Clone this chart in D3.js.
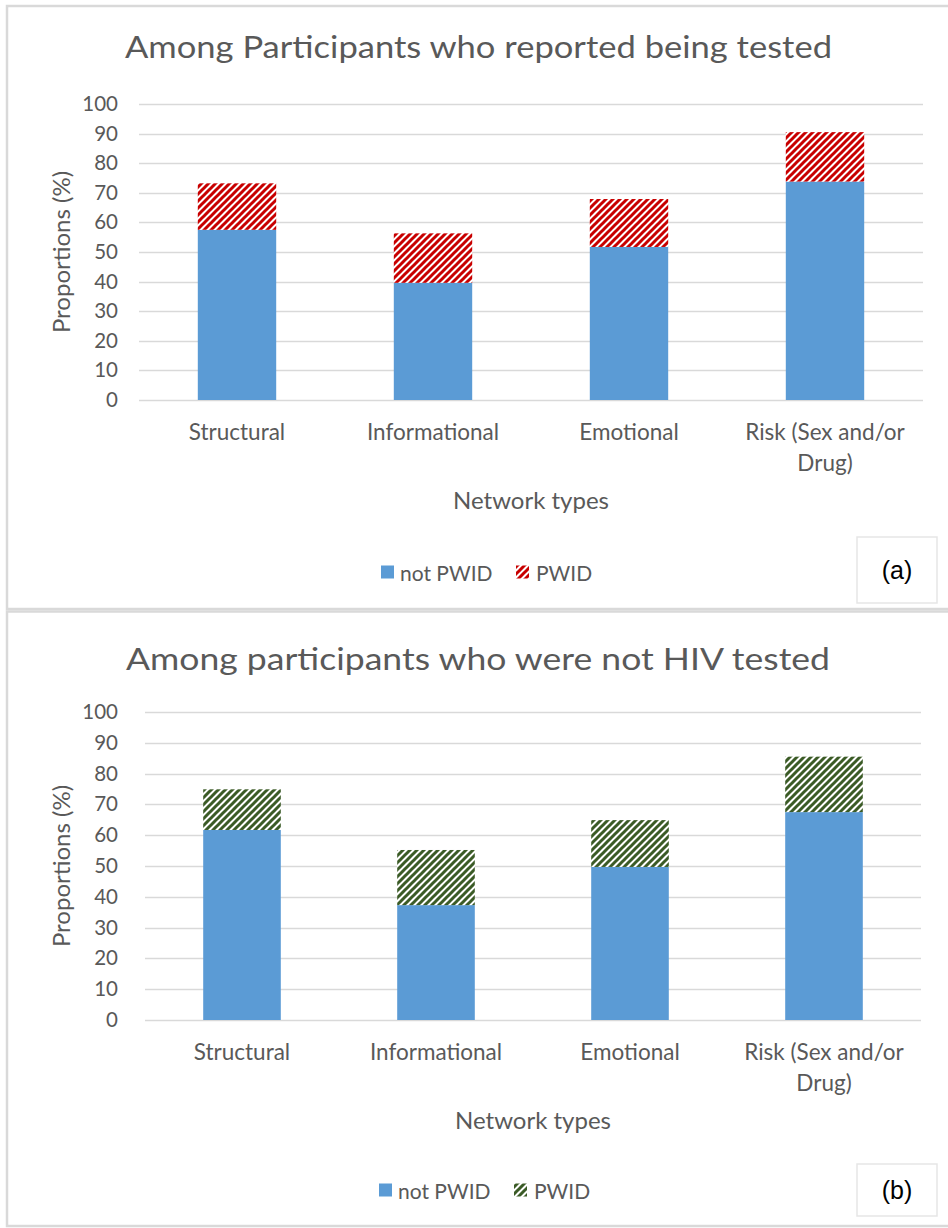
<!DOCTYPE html>
<html>
<head>
<meta charset="utf-8">
<script src="https://cdn.jsdelivr.net/npm/d3@7"></script>
<style>
  html, body { margin: 0; padding: 0; background: #fff; overflow: hidden; }
  svg { display: block; }
  text { font-family: Lato, "Open Sans", sans-serif; }
</style>
</head>
<body>
<svg id="fig" width="948" height="1228"></svg>
<script>
// Network types along the x axis (display lines for each label)
const categories = ["Structural", "Informational", "Emotional", "Risk (Sex and/or Drug)"];
const categoryLines = [["Structural"], ["Informational"], ["Emotional"], ["Risk (Sex and/or", "Drug)"]];

// Panel (a): participants who reported being tested
const testedNotPWID = [57.5, 39.6, 51.7, 73.8];
const testedPWID    = [15.7, 16.7, 16.2, 16.7];

// Panel (b): participants who were not HIV tested
const untestedNotPWID = [61.7, 37.3, 49.7, 67.5];
const untestedPWID    = [13.2, 17.9, 15.2, 18.0];

const yTicks = [0, 10, 20, 30, 40, 50, 60, 70, 80, 90, 100];
const seriesNames = ["not PWID", "PWID"];

const svg = d3.select("#fig");
const textColor = "#595959";
const gridColor = "#d9d9d9";
const blue = "#5b9bd5";

// Wide upward-diagonal hatch patterns for the PWID segments
const defs = svg.append("defs");
function hatch(id, color) {
  const s = 7, o = 2;
  const p = defs.append("pattern")
    .attr("id", id)
    .attr("patternUnits", "userSpaceOnUse")
    .attr("width", s).attr("height", s);
  p.append("rect").attr("width", s).attr("height", s).attr("fill", "#fff");
  p.append("path")
    .attr("d", `M${-o},${o} L${o},${-o} M0,${s} L${s},0 M${s - o},${s + o} L${s + o},${s - o}`)
    .attr("stroke", color).attr("stroke-width", 3);
}
hatch("hatchRed", "#c80000");
hatch("hatchGreen", "#3b5b26");

// Panel frames
svg.append("rect").attr("x", 7).attr("y", 6).attr("width", 960).attr("height", 603)
  .attr("fill", "none").attr("stroke", gridColor).attr("stroke-width", 2.5);
svg.append("rect").attr("x", 7).attr("y", 611.5).attr("width", 960).attr("height", 614.5)
  .attr("fill", "none").attr("stroke", gridColor).attr("stroke-width", 2.5);

function drawPanel(cfg) {
  const g = svg.append("g");
  const x = d3.scaleBand().domain(categories)
    .range([cfg.left, cfg.right]).paddingInner(0.6).paddingOuter(0.3);
  const y = d3.scaleLinear().domain([0, 100]).range([cfg.y0, cfg.y100]);

  // Title
  g.append("text").attr("x", cfg.titleX).attr("y", cfg.titleY)
    .attr("text-anchor", "middle").attr("fill", textColor)
    .attr("font-size", 31)
    .attr("textLength", cfg.titleWidth).attr("lengthAdjust", "spacingAndGlyphs")
    .text(cfg.title);

  // Gridlines
  g.append("g").selectAll("line").data(yTicks).join("line")
    .attr("x1", cfg.left).attr("x2", cfg.right)
    .attr("y1", d => Math.round(y(d)) + 0.5).attr("y2", d => Math.round(y(d)) + 0.5)
    .attr("stroke", gridColor).attr("stroke-width", 1.4);

  // Y axis tick labels
  const yAxis = d3.axisLeft(y).tickValues(yTicks).tickSize(0).tickPadding(0);
  const ya = g.append("g").attr("transform", `translate(${cfg.tickRight},0)`).call(yAxis);
  ya.select(".domain").remove();
  ya.selectAll("text").attr("fill", textColor).attr("font-size", 20.5)
    .style("font-family", "Lato, 'Open Sans', sans-serif");

  // Y axis title
  g.append("text")
    .attr("transform", `translate(${cfg.yTitleX},${(cfg.y0 + cfg.y100) / 2}) rotate(-90)`)
    .attr("text-anchor", "middle").attr("dominant-baseline", "central")
    .attr("fill", textColor).attr("font-size", 24).text("Proportions (%)");

  // Stacked bars
  const rows = categories.map((c, i) => ({ cat: c, a: cfg.base[i], b: cfg.top[i] }));
  g.append("g").selectAll("rect").data(rows).join("rect")
    .attr("x", d => x(d.cat)).attr("width", x.bandwidth())
    .attr("y", d => y(d.a)).attr("height", d => y(0) - y(d.a))
    .attr("fill", blue);
  g.append("g").selectAll("rect").data(rows).join("rect")
    .attr("x", d => x(d.cat)).attr("width", x.bandwidth())
    .attr("y", d => y(d.a + d.b)).attr("height", d => y(d.a) - y(d.a + d.b))
    .attr("fill", `url(#${cfg.pattern})`);

  // Category labels
  const xl = g.append("g").selectAll("text").data(categories).join("text")
    .attr("text-anchor", "middle").attr("fill", textColor).attr("font-size", 22.5)
    .attr("x", d => x(d) + x.bandwidth() / 2)
    .attr("y", cfg.y0 + 40);
  xl.each(function (d, i) {
    d3.select(this).selectAll("tspan").data(categoryLines[i]).join("tspan")
      .attr("x", x(d) + x.bandwidth() / 2)
      .attr("dy", (t, j) => j === 0 ? 0 : 31)
      .text(t => t);
  });

  // X axis title
  g.append("text").attr("x", (cfg.left + cfg.right) / 2).attr("y", cfg.y0 + 109)
    .attr("text-anchor", "middle").attr("fill", textColor).attr("font-size", 24)
    .text("Network types");

  // Legend
  const lg = g.append("g").attr("transform", `translate(0,${cfg.legendY})`);
  lg.append("rect").attr("x", cfg.legendX).attr("y", -6.5).attr("width", 13).attr("height", 13).attr("fill", blue);
  lg.append("text").attr("x", cfg.legendX + 19).attr("y", 0).attr("dominant-baseline", "central")
    .attr("fill", textColor).attr("font-size", 21).text(seriesNames[0]);
  lg.append("rect").attr("x", cfg.legendX + 135).attr("y", -6.5).attr("width", 13).attr("height", 13)
    .attr("fill", `url(#${cfg.pattern})`);
  lg.append("text").attr("x", cfg.legendX + 155).attr("y", 0).attr("dominant-baseline", "central")
    .attr("fill", textColor).attr("font-size", 21).text(seriesNames[1]);

  // Panel letter box
  g.append("rect").attr("x", 857).attr("y", cfg.boxY).attr("width", 80).attr("height", cfg.boxH)
    .attr("fill", "#fff").attr("stroke", "#e6e6e6").attr("stroke-width", 1.5);
  g.append("text").attr("x", 897).attr("y", cfg.boxY + cfg.boxH / 2)
    .attr("text-anchor", "middle").attr("dominant-baseline", "central")
    .attr("fill", "#000").attr("font-size", 25)
    .style("font-family", "'Liberation Sans', Arial, sans-serif").text(cfg.letter);
}

drawPanel({
  title: "Among Participants who reported being tested",
  titleX: 478.5, titleY: 58, titleWidth: 707,
  left: 139, right: 923, y0: 400, y100: 104,
  tickRight: 118, yTitleX: 60,
  base: testedNotPWID, top: testedPWID, pattern: "hatchRed",
  legendX: 381, legendY: 572,
  boxY: 537, boxH: 66, letter: "(a)"
});

drawPanel({
  title: "Among participants who were not HIV tested",
  titleX: 478, titleY: 670, titleWidth: 704,
  left: 145, right: 921, y0: 1020, y100: 712,
  tickRight: 118, yTitleX: 60,
  base: untestedNotPWID, top: untestedPWID, pattern: "hatchGreen",
  legendX: 379, legendY: 1190,
  boxY: 1164, boxH: 52, letter: "(b)"
});
</script>
</body>
</html>
